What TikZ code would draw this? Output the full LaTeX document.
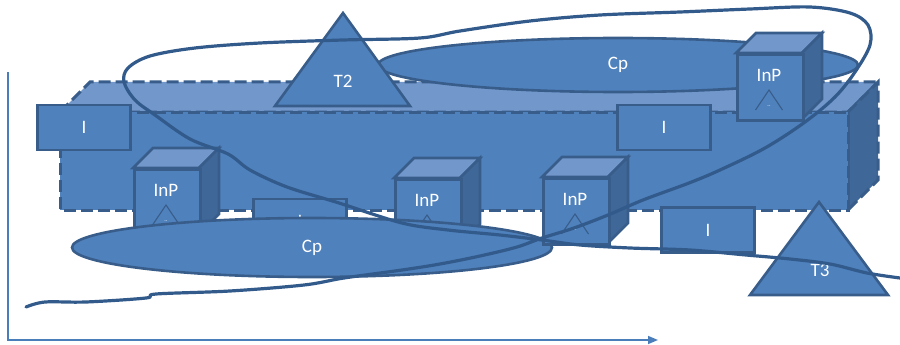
\documentclass[tikz,border=0pt]{standalone}
\usepackage{fontspec}
\setmainfont{Carlito}
\usetikzlibrary{arrows.meta,shapes.geometric}
\definecolor{sblue}{HTML}{4F81BD}
\definecolor{sline}{HTML}{385D8A}
\definecolor{slight}{HTML}{7297CA}
\definecolor{sdark}{HTML}{3F6797}
\definecolor{axisc}{HTML}{4A7EBB}
\definecolor{curvec}{HTML}{325B8C}
\tikzset{
  shp/.style={fill=sblue, draw=sline, line width=2.6pt, line join=miter},
  cub/.style={draw=sline, line width=3pt, dash pattern=on 12pt off 5pt},
  lbl/.style={text=white, font=\fontsize{19}{19}\selectfont, inner sep=0pt},
  ibox/.style={shp, rectangle, minimum width=93pt, minimum height=45pt, inner sep=0pt, text=white, font=\fontsize{19}{19}\selectfont},
  cpell/.style={shp, ellipse, minimum width=480pt, inner sep=0pt, text=white, font=\fontsize{19}{19}\selectfont},
  loopline/.style={draw=curvec, line width=3.2pt, line cap=round, line join=round},
  axisline/.style={draw=axisc, line width=1.6pt}
}
\newcommand\inpcube[3]{%
  \begin{scope}[shift={(#1,#2)}]
    \draw[shp, fill=slight] (0,0) -- (20,-20) -- (86,-20) -- (66,0) -- cycle;
    \draw[shp, fill=sdark] (66,0) -- (86,-20) -- (86,46) -- (66,66) -- cycle;
    \node[shp, rectangle, minimum width=66pt, minimum height=66pt, inner sep=0pt, anchor=north west] (#3) at (0,0) {};
    \node[lbl] (#3l) at (33,22) {InP};
    \draw[sline, line width=1.1pt] (19.5,57) -- (33,37) -- (46.5,57);
    \node[text=white, inner sep=0pt, font=\fontsize{6}{6}\selectfont] (#3d) at (33,53) {..};
  \end{scope}}
\begin{document}
\begin{tikzpicture}[x=1pt,y=-1pt]
\useasboundingbox (0,0) rectangle (900,345);
% axes
\coordinate (ytop) at (8,72);
\coordinate (org) at (8,340);
\coordinate (xend) at (658,340);
\draw[axisline, -{Triangle[length=10pt,width=8pt]}] (ytop) -- (org) -- (xend);
% dashed cuboid
\draw[cub, fill=slight] (60,112) -- (90,82) -- (878,82) -- (848,112) -- cycle;
\draw[cub, fill=sdark] (848,112) -- (878,82) -- (878,180) -- (848,210) -- cycle;
\draw[cub, fill=sblue] (60,112) rectangle (848,210);
% top ellipse
\node[cpell, minimum height=54pt] (cptop) at (618,65) {Cp};
% T2
\draw[shp] (343,13) -- (410,106) -- (275,106) -- cycle;
\node[lbl] (t2) at (343,81) {T2};
% cube 4
\inpcube{736}{53}{c4}
% I boxes
\node[ibox] (i1) at (84,127.5) {I};
\node[ibox] (i2) at (664,127.5) {I};
\inpcube{133}{168}{c1}
\node[ibox] (i4) at (300,221.5) {I};
\inpcube{394}{178}{c2}
% bottom ellipse
\node[cpell, minimum height=59pt] (cpbot) at (312,247.5) {Cp};
\inpcube{542}{177}{c3}
\node[ibox] (i3) at (708,230) {I};
% T3
\draw[shp] (819,202) -- (888,295) -- (750,295) -- cycle;
\node[lbl] (t3) at (820,270) {T3};
% loop curve
\draw[loopline] plot[smooth, tension=0.55] coordinates {
 (26,307) (45,302) (86,302) (146,298) (156,294) (230,291) (304,285) (344,278)
 (402,270) (440,264) (480,256) (517,247) (542,238) (574,228) (608,215) (643,200)
 (689,183) (720,170) (765,148) (805,122) (835,97) (855,72) (870,45) (868,25)
 (850,13) (810,7) (750,9) (680,12) (600,15) (530,21) (460,31) (420,38) (343,40)
 (260,43) (195,48) (150,56) (128,68) (124,82) (135,100) (155,115) (190,139)
 (228,154) (250,170) (287,187) (339,203) (402,223) (448,230) (500,235) (542,240)
 (580,245) (630,248) (690,250) (746,255) (790,259) (830,264) (867,273) (900,278)};
\end{tikzpicture}
\end{document}
